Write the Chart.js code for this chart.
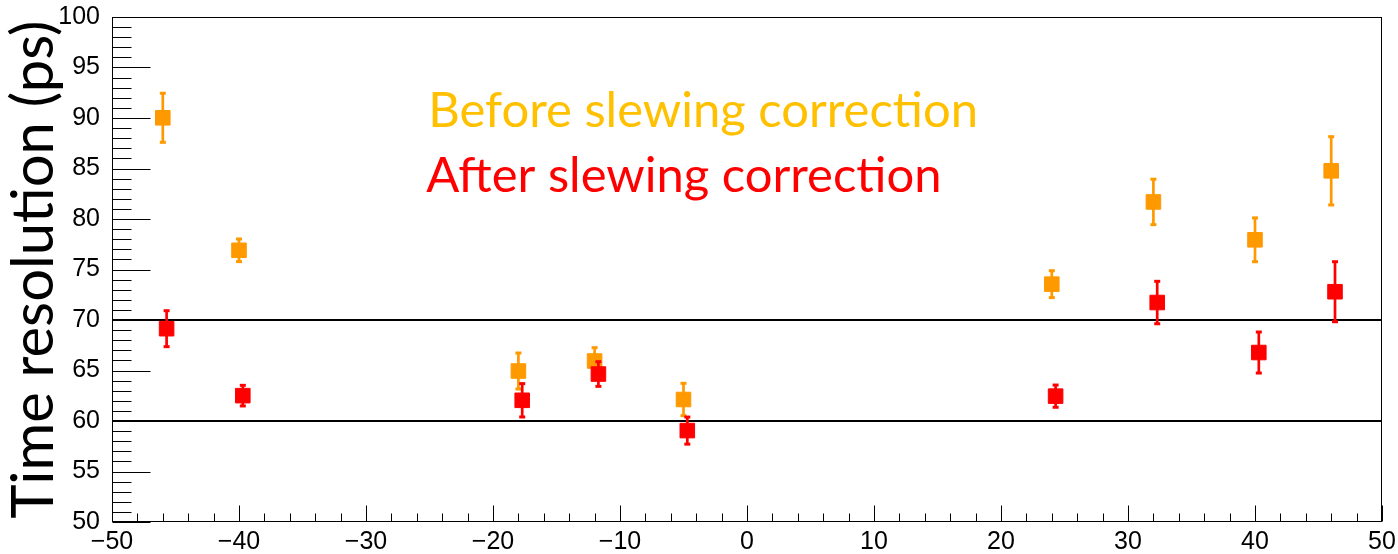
<!DOCTYPE html>
<html>
<head>
<meta charset="utf-8">
<script src="https://cdn.jsdelivr.net/npm/chart.js@4/dist/chart.umd.min.js"></script>
<style>
html,body{margin:0;padding:0;background:#fff;overflow:hidden;}
#wrap{width:1398px;height:554px;}
canvas{display:block;}
</style>
</head>
<body>
<div id="wrap"><canvas id="c" width="1398" height="554"></canvas></div>
<script>
// ---- data ----
const positionsBefore = [-46, -40, -18, -12, -5, 24, 32, 40, 46];
const resolutionBefore = [90.02, 76.9, 64.95, 65.94, 62.13, 73.55, 81.69, 77.94, 84.77];
const errorBefore = [2.43, 1.12, 1.78, 1.32, 1.6, 1.33, 2.25, 2.17, 3.38];

const positionsAfter = [-45.7, -39.7, -17.7, -11.7, -4.7, 24.3, 32.3, 40.3, 46.3];
const resolutionAfter = [69.14, 62.51, 62.05, 64.65, 59.05, 62.46, 71.73, 66.78, 72.8];
const errorAfter = [1.78, 1.02, 1.65, 1.22, 1.34, 1.1, 2.1, 2.03, 2.97];

const referenceLevels = [60, 70];
const xRange = [-50, 50];
const yRange = [50, 100];

const labelBefore = 'Before slewing correction';
const labelAfter = 'After slewing correction';
const yTitle = 'Time resolution (ps)';

const ORANGE = '#FF9900';
const RED = '#FF0000';

const toPts = (xs, ys) => xs.map((x, i) => ({x, y: ys[i]}));

const datasets = [
  {label: labelAfter, data: toPts(positionsAfter, resolutionAfter), errors: errorAfter,
   backgroundColor: RED, borderColor: RED, pointStyle: 'rect', pointRadius: 10.3, borderWidth: 1, showLine: false, order: 1},
  {label: labelBefore, data: toPts(positionsBefore, resolutionBefore), errors: errorBefore,
   backgroundColor: ORANGE, borderColor: ORANGE, pointStyle: 'rect', pointRadius: 10.3, borderWidth: 1, showLine: false, order: 2},
];
referenceLevels.forEach((lvl, k) => {
  datasets.push({label: 'level' + lvl, data: [{x: xRange[0], y: lvl}, {x: xRange[1], y: lvl}],
    showLine: true, borderColor: '#000', borderWidth: 2, pointRadius: 0, fill: false, order: 3 + k});
});

function fitFont(ctx, text, family, target) {
  ctx.font = '100px "' + family + '"';
  const w = ctx.measureText(text).width;
  return 100 * target / w;
}

const rootStyle = {
  id: 'rootStyle',
  beforeDatasetDraw(chart, args) {
    const ds = chart.data.datasets[args.index];
    if (!ds.errors) return;
    const ctx = chart.ctx, xs = chart.scales.x, ys = chart.scales.y;
    ctx.save();
    ctx.strokeStyle = ds.backgroundColor;
    ctx.fillStyle = ds.backgroundColor;
    ctx.lineWidth = 2.7;
    ds.data.forEach((p, i) => {
      const e = ds.errors[i];
      const px = xs.getPixelForValue(p.x);
      const top = ys.getPixelForValue(p.y + e);
      const bot = ys.getPixelForValue(p.y - e);
      ctx.beginPath(); ctx.moveTo(px, top); ctx.lineTo(px, bot); ctx.stroke();
      ctx.fillRect(px - 3, top - 1.5, 6, 3);
      ctx.fillRect(px - 3, bot - 1.5, 6, 3);
    });
    ctx.restore();
  },
  afterDraw(chart) {
    const ctx = chart.ctx, xs = chart.scales.x, ys = chart.scales.y;
    const a = chart.chartArea;
    const L = Math.round(a.left) + 0.5, R = Math.round(a.right) - 0.5;
    const T = Math.round(a.top) + 0.5, B = Math.round(a.bottom) - 0.5;
    ctx.save();
    ctx.strokeStyle = '#000';
    ctx.lineWidth = 1;
    ctx.strokeRect(L, T, R - L, B - T);
    ctx.beginPath();
    for (let v = ys.min; v <= ys.max + 1e-9; v += 1) {
      const py = Math.round(ys.getPixelForValue(v)) + 0.5;
      const len = (Math.round(v) % 5 === 0) ? 38 : 19;
      ctx.moveTo(L, py); ctx.lineTo(L + len, py);
    }
    for (let v = xs.min; v <= xs.max + 1e-9; v += 2) {
      const px = Math.round(xs.getPixelForValue(v)) + 0.5;
      const len = (Math.round(v) % 10 === 0) ? 16 : 8;
      ctx.moveTo(px, B); ctx.lineTo(px, B - len);
    }
    ctx.stroke();

    const sz = fitFont(ctx, labelBefore, 'Lato', 550);
    ctx.font = sz + 'px "Lato"';
    ctx.textAlign = 'left';
    ctx.textBaseline = 'alphabetic';
    const tx = xs.getPixelForValue(-25.1);
    ctx.fillStyle = '#FFC000';
    ctx.fillText(labelBefore, tx, ys.getPixelForValue(89.1));
    ctx.fillStyle = RED;
    ctx.fillText(labelAfter, tx - 2, ys.getPixelForValue(82.7));

    const tsz = fitFont(ctx, yTitle, 'Lato', 498);
    ctx.font = tsz + 'px "Lato"';
    ctx.fillStyle = '#000';
    ctx.translate(53, (a.top + a.bottom) / 2);
    ctx.rotate(-Math.PI / 2);
    ctx.textAlign = 'center';
    ctx.fillText(yTitle, 0, 0);
    ctx.restore();
  }
};

const fmt = v => (v < 0 ? '\u2212' + Math.abs(v) : String(v));

new Chart(document.getElementById('c'), {
  type: 'scatter',
  data: {datasets},
  options: {
    responsive: false,
    animation: false,
    devicePixelRatio: 1,
    layout: {padding: {left: 0, right: 16, top: 17, bottom: 0}},
    plugins: {legend: {display: false}, tooltip: {enabled: false}},
    scales: {
      x: {
        type: 'linear', min: xRange[0], max: xRange[1],
        grid: {display: false, drawTicks: false}, border: {display: false},
        ticks: {stepSize: 10, autoSkip: false, maxRotation: 0, padding: 5,
                color: '#000', font: {family: 'Liberation Sans', size: 25},
                callback: fmt},
        afterFit(s) { s.height = 32; s.paddingLeft = 0; s.paddingRight = 0; s.paddingTop = 0; s.paddingBottom = 0; }
      },
      y: {
        type: 'linear', min: yRange[0], max: yRange[1],
        grid: {display: false, drawTicks: false}, border: {display: false},
        ticks: {stepSize: 5, padding: 12, color: '#000',
                font: {family: 'Liberation Sans', size: 25}, callback: fmt},
        afterFit(s) { s.width = 112; s.paddingTop = 0; s.paddingBottom = 0; s.paddingLeft = 0; s.paddingRight = 0; }
      }
    }
  },
  plugins: [rootStyle]
});
</script>
</body>
</html>
